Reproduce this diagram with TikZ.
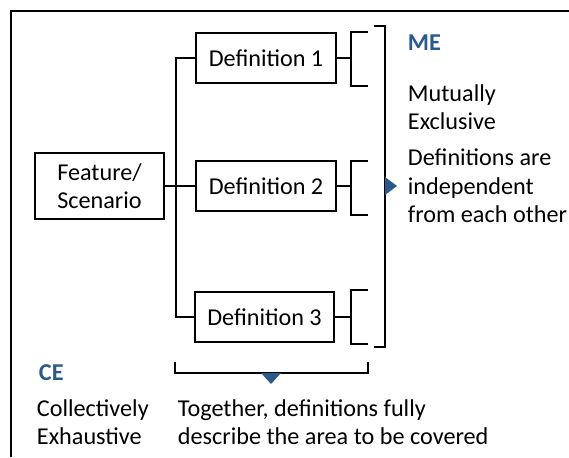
\documentclass[tikz,border=0pt]{standalone}
\usepackage{fontspec}
\setmainfont{Carlito}
\definecolor{meblue}{RGB}{42,90,140}
\begin{document}
\begin{tikzpicture}[x=1pt,y=-1pt,line width=1.9pt,font=\fontsize{24.2}{28.5}\selectfont]
\useasboundingbox (0,0) rectangle (569,457);
\draw (11,457) -- (11,11) -- (569,11);

\node[draw,minimum width=129,minimum height=66,align=center] (feature) at (99.5,186) {Feature/\\Scenario};
\node[draw,minimum width=140,minimum height=50] (def1) at (266,58)  {Definition 1};
\node[draw,minimum width=140,minimum height=50] (def2) at (266,186) {Definition 2};
\node[draw,minimum width=139,minimum height=50] (def3) at (264.5,317) {Definition 3};

\draw (feature.east) -- (def2.west);
\draw (def1.west) -- ++(-19,0) |- (def3.west);

\coordinate (b1) at (351,58);
\coordinate (b2) at (351,188);
\coordinate (b3) at (351,317);
\draw (def1.east) -- (b1);
\draw (def2.east) -- (def2.east -| b2);
\draw (def3.east) -- (b3);
\draw (368,32)  -- (351,32)  -- (351,86)  -- (368,86);
\draw (368,161) -- (351,161) -- (351,215) -- (368,215);
\draw (368,290) -- (351,290) -- (351,344) -- (368,344);

\draw (374,26) -- (385,26) -- (385,347) -- (374,347);
\fill[meblue] (385,177) -- (397,186) -- (385,195) -- cycle;

\draw (175,362) -- (175,373) -- (368,373) -- (368,362);
\fill[meblue] (261,373) -- (281,373) -- (271,384) -- cycle;

\node[anchor=west,inner sep=0,text=meblue,font=\fontsize{24.2}{28.5}\selectfont\bfseries] (me) at (407,43) {ME};
\node[anchor=west,inner sep=0,align=left] (metxt) at (407,107) {Mutually\\Exclusive};
\node[anchor=west,inner sep=0,align=left] (medesc) at (407,186) {Definitions are\\independent\\from each other};

\node[anchor=west,inner sep=0,text=meblue,font=\fontsize{24.2}{28.5}\selectfont\bfseries] (ce) at (38,373) {CE};
\node[anchor=west,inner sep=0,align=left] (cetxt) at (36,422) {Collectively\\Exhaustive};
\node[anchor=west,inner sep=0,align=left] (cedesc) at (177,422) {Together, definitions fully\\describe the area to be covered};
\end{tikzpicture}
\end{document}
